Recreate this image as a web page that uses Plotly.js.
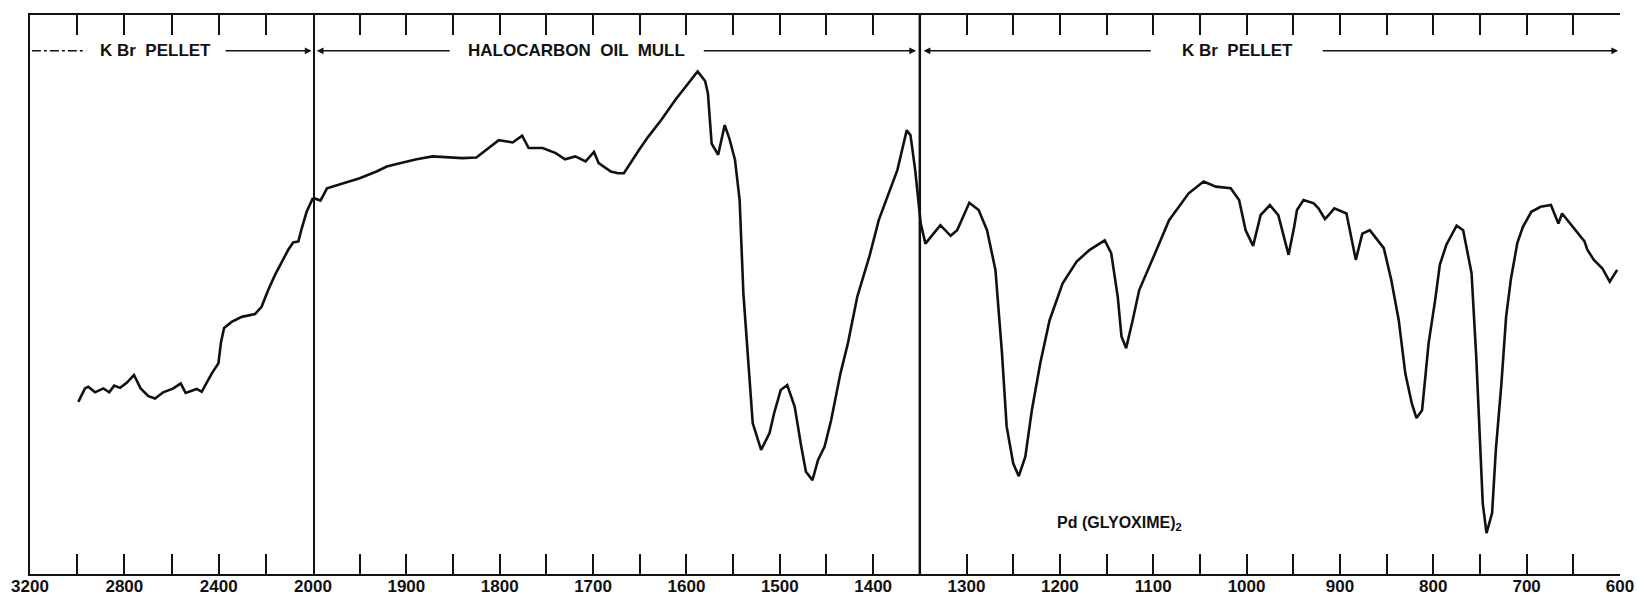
<!DOCTYPE html>
<html>
<head>
<meta charset="utf-8">
<script src="https://cdn.plot.ly/plotly-3.0.1.min.js"></script>
<style>html,body{margin:0;padding:0;background:#fff;overflow:hidden;}#chart{width:1637px;height:599px;}</style>
</head>
<body>
<div id="chart"></div>
<script>
// KBr pellet region, 3200-2000 cm-1 (compressed scale)
const wavenumberKBr1 = [2995, 2967, 2953, 2924, 2889, 2864, 2843, 2818, 2790, 2759, 2731, 2698, 2670, 2635, 2592, 2561, 2540, 2493, 2472, 2429, 2401, 2390, 2377, 2345, 2302, 2246, 2218, 2190, 2161, 2105, 2084, 2062, 2048, 2027, 2000];
const transKBr1 = [30.8, 33.2, 33.5, 32.5, 33.2, 32.5, 33.7, 33.3, 34.2, 35.6, 33.2, 31.8, 31.4, 32.5, 33.2, 34.1, 32.4, 33.1, 32.6, 35.9, 37.7, 41.5, 44.0, 45.1, 46.0, 46.5, 47.8, 50.8, 53.5, 58.0, 59.3, 59.5, 61.8, 64.8, 67.3];

// Halocarbon oil mull + KBr pellet region, 2000-600 cm-1
const wavenumberMain = [2000, 1992, 1985, 1968, 1950, 1932, 1921, 1907, 1889, 1872, 1854, 1840, 1825, 1815, 1801, 1786, 1776, 1769, 1754, 1740, 1730, 1719, 1708, 1699, 1694, 1681, 1673, 1667, 1658, 1651, 1641, 1627, 1612, 1598, 1588, 1580, 1577, 1573, 1566, 1559, 1554, 1548, 1543, 1539, 1534, 1529, 1520, 1511, 1506, 1499, 1492, 1484, 1477, 1472, 1465, 1459, 1452, 1445, 1435, 1427, 1417, 1404, 1394, 1385, 1374, 1364, 1360, 1355, 1349, 1344, 1328, 1317, 1310, 1297, 1287, 1278, 1269, 1262, 1257, 1250, 1244, 1237, 1230, 1221, 1211, 1197, 1182, 1168, 1152, 1145, 1138, 1134, 1129, 1122, 1115, 1101, 1083, 1062, 1046, 1033, 1017, 1008, 1001, 993, 985, 975, 966, 960, 955, 949, 946, 939, 928, 923, 916, 910, 906, 893, 887, 883, 876, 868, 853, 845, 837, 830, 823, 818, 812, 805, 798, 793, 786, 775, 768, 759, 754, 750, 747, 743, 737, 733, 727, 722, 717, 710, 704, 695, 685, 674, 666, 662, 649, 638, 635, 628, 619, 611, 603];
const transMain = [67.3, 66.8, 69.0, 69.9, 70.8, 72.0, 72.9, 73.5, 74.2, 74.7, 74.5, 74.4, 74.5, 75.8, 77.6, 77.2, 78.4, 76.2, 76.2, 75.3, 74.2, 74.7, 73.8, 75.5, 73.5, 72.0, 71.7, 71.7, 74.1, 75.8, 78.2, 81.2, 84.8, 87.8, 89.9, 88.2, 86.0, 77.0, 75.0, 80.3, 77.9, 74.1, 66.9, 50.2, 38.3, 27.0, 22.2, 25.2, 28.8, 32.9, 33.8, 29.9, 22.8, 18.3, 16.8, 20.4, 22.8, 27.5, 35.9, 41.3, 49.6, 56.8, 63.3, 67.5, 72.3, 79.4, 78.5, 72.3, 62.7, 59.1, 62.4, 60.5, 61.5, 66.4, 65.1, 61.5, 54.4, 39.5, 26.4, 19.8, 17.5, 21.0, 29.3, 37.7, 45.4, 52.0, 55.9, 58.0, 59.7, 57.4, 49.6, 42.5, 40.4, 45.4, 50.8, 56.2, 63.3, 68.1, 70.2, 69.3, 69.0, 66.9, 61.5, 58.7, 64.2, 66.0, 64.2, 60.3, 57.1, 62.1, 65.1, 66.9, 66.3, 65.4, 63.5, 64.6, 65.4, 64.5, 59.7, 56.2, 60.9, 61.5, 58.3, 52.6, 45.4, 35.9, 30.5, 27.9, 29.3, 41.3, 49.0, 55.3, 58.9, 62.3, 61.5, 53.8, 38.9, 22.8, 12.6, 7.3, 10.9, 22.2, 34.1, 46.0, 52.6, 59.2, 62.1, 64.8, 65.7, 66.0, 62.7, 64.5, 61.8, 59.5, 58.0, 56.2, 54.7, 52.3, 54.4];

// tick positions and labels
const ticksSeg1 = [3200, 3000, 2800, 2600, 2400, 2200, 2000];
const labelsSeg1 = ['3200', '', '2800', '', '2400', '', '2000'];
const ticksSeg2 = [1950, 1900, 1850, 1800, 1750, 1700, 1650, 1600, 1550, 1500, 1450, 1400, 1350, 1300, 1250, 1200, 1150, 1100, 1050, 1000, 950, 900, 850, 800, 750, 700, 650, 600];
const labelsSeg2 = ['', '1900', '', '1800', '', '1700', '', '1600', '', '1500', '', '1400', '', '1300', '', '1200', '', '1100', '', '1000', '', '900', '', '800', '', '700', '', '600'];

const regionLabels = ['K Br  PELLET', 'HALOCARBON  OIL  MULL', 'K Br  PELLET'];
const compoundLabel = 'Pd (GLYOXIME)<sub>2</sub>';

const ink = '#111';
const lineStyle = {color: ink, width: 2.6, shape: 'linear'};

const traces = [
  {x: wavenumberKBr1, y: transKBr1, xaxis: 'x', yaxis: 'y', mode: 'lines', line: lineStyle, hoverinfo: 'skip'},
  {x: wavenumberMain, y: transMain, xaxis: 'x2', yaxis: 'y', mode: 'lines', line: lineStyle, hoverinfo: 'skip'}
];

const split = (313 - 30) / 1590;
const tickFont = {family: 'Liberation Sans, Arial, sans-serif', size: 17, color: ink, weight: 'bold'};
const axisCommon = {
  showgrid: false, zeroline: false, showline: true, linecolor: ink, linewidth: 2,
  mirror: 'ticks', ticks: 'inside', ticklen: 20, tickwidth: 2, tickcolor: ink,
  tickmode: 'array', tickfont: tickFont, tickangle: 0, anchor: 'y', fixedrange: true,
  ticklabeloverflow: 'allow', automargin: false, ticklabelstandoff: -4
};

const labelFont = {family: 'Liberation Sans, Arial, sans-serif', size: 17, color: ink, weight: 'bold'};
const yLab = 93.6;

function arrowAnn(xref, from, to) {
  return {xref: xref, yref: 'y', x: to, y: yLab, ax: from, ay: yLab, axref: xref, ayref: 'y',
          text: '', showarrow: true, arrowhead: 2, arrowsize: 0.9, arrowwidth: 1.5, arrowcolor: ink, standoff: 0};
}

const layout = {
  width: 1637, height: 599,
  margin: {l: 30, r: 17, t: 15, b: 25},
  paper_bgcolor: '#fff', plot_bgcolor: '#fff',
  showlegend: false,
  xaxis: Object.assign({}, axisCommon, {domain: [0, split], range: [3200, 2000], tickvals: ticksSeg1, ticktext: labelsSeg1}),
  xaxis2: Object.assign({}, axisCommon, {domain: [split, 1], range: [2000, 600], tickvals: ticksSeg2, ticktext: labelsSeg2}),
  yaxis: {range: [0, 100], showgrid: false, zeroline: false, showline: true, mirror: true, linecolor: ink, linewidth: 2,
          ticks: '', showticklabels: false, fixedrange: true},
  shapes: [
    {type: 'line', xref: 'x2', yref: 'y', x0: 2000, x1: 2000, y0: 0, y1: 100, line: {color: ink, width: 2.5}},
    {type: 'line', xref: 'x2', yref: 'y', x0: 1350, x1: 1350, y0: 0, y1: 100, line: {color: ink, width: 2.5}},
    {type: 'line', xref: 'x', yref: 'y', x0: 3192, x1: 2962, y0: yLab, y1: yLab, line: {color: ink, width: 1.5, dash: 'dashdot'}}
  ],
  annotations: [
    {xref: 'x', yref: 'y', x: 2666, y: yLab, text: regionLabels[0], showarrow: false, font: labelFont, xanchor: 'center', yanchor: 'middle'},
    {xref: 'x2', yref: 'y', x: 1718, y: yLab, text: regionLabels[1], showarrow: false, font: labelFont, xanchor: 'center', yanchor: 'middle'},
    {xref: 'x2', yref: 'y', x: 1010, y: yLab, text: regionLabels[2], showarrow: false, font: labelFont, xanchor: 'center', yanchor: 'middle'},
    arrowAnn('x', 2377, 2006),
    arrowAnn('x2', 1852, 1996),
    arrowAnn('x2', 1583, 1354),
    arrowAnn('x2', 1101, 1346),
    arrowAnn('x2', 920, 602),
    {xref: 'x2', yref: 'y', x: 1136, y: 9.1, text: compoundLabel, showarrow: false,
     font: {family: 'Liberation Sans, Arial, sans-serif', size: 16, color: ink, weight: 'bold'}, xanchor: 'center', yanchor: 'middle'}
  ]
};

Plotly.newPlot('chart', traces, layout, {staticPlot: true, displayModeBar: false});
</script>
</body>
</html>
